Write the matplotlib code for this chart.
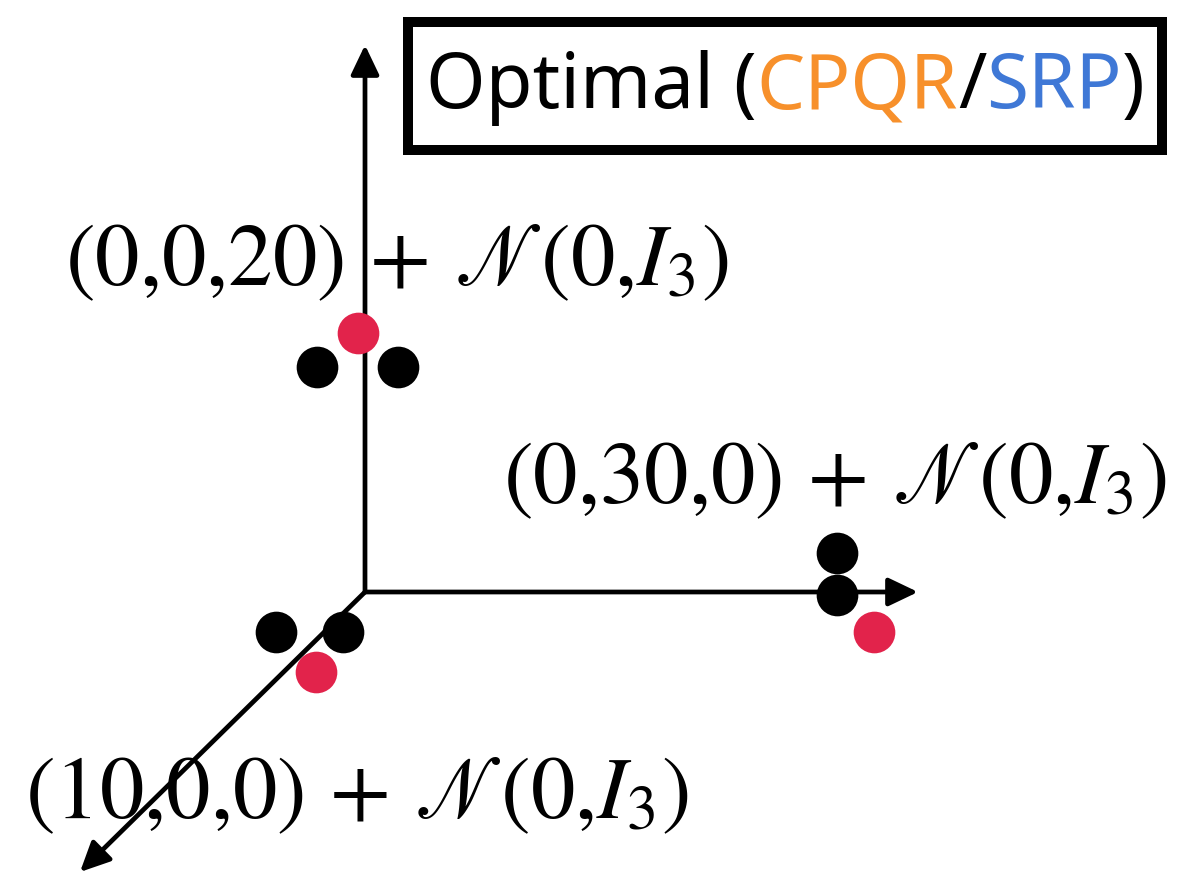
import matplotlib
matplotlib.use('Agg')
import matplotlib.pyplot as plt
from matplotlib.patches import Rectangle
from matplotlib.offsetbox import TextArea, HPacker, AnnotationBbox

plt.rcParams['mathtext.fontset'] = 'stix'

# axis arrows, drawn from the origin (units ~ pixels)
axis_tips = {'z': (0, 547), 'y': (553, 0), 'x': (-285, -280)}

# sample points around each cluster center
black_x = [-48, 33, 472, 472, -89, -22]
black_y = [225, 225, 39, -3, -40, -40]
# optimal representatives
red_x = [-7, 509, -49]
red_y = [259, -40, -80]

labels = [r'$(0{,}0{,}20)\,+\,\mathscr{N}(0{,}I_3)$',
          r'$(0{,}30{,}0)\,+\,\mathscr{N}(0{,}I_3)$',
          r'$(10{,}0{,}0)\,+\,\mathscr{N}(0{,}I_3)$']
label_pos = [(-300, 307), (138, 89), (-340, -226)]

legend_parts = ['Optimal (', 'CPQR', '/', 'SRP', ')']
legend_colors = ['black', '#f7902b', 'black', '#3f78d6', 'black']

fig = plt.figure(figsize=(11.78, 8.75), dpi=100)
ax = fig.add_axes([0, 0, 1, 1])
ax.set_xlim(-365, 813)
ax.set_ylim(-283, 592)
ax.axis('off')

for name, (tx, ty) in axis_tips.items():
    ax.annotate('', xy=(tx, ty), xytext=(0, 0),
                arrowprops=dict(arrowstyle='-|>,head_length=0.9,head_width=0.43',
                                lw=3.4, color='black', shrinkA=0, shrinkB=0,
                                mutation_scale=20))

ax.plot(black_x, black_y, 'o', color='black', ms=30, mew=0, zorder=3)
ax.plot(red_x, red_y, 'o', color='#e2234b', ms=30, mew=0, zorder=3)

for s, (lx, ly) in zip(labels, label_pos):
    ax.text(lx, ly, s, fontsize=64, ha='left', va='baseline', color='black')

# legend frame
ax.add_patch(Rectangle((408 / 1178, 1 - 150 / 875), 754 / 1178, 128 / 875,
                       transform=fig.transFigure, fc='white', ec='black',
                       lw=7.2, zorder=5, clip_on=False))

boxes = [TextArea(p, textprops=dict(color=c, fontsize=55, family='Noto Sans'))
         for p, c in zip(legend_parts, legend_colors)]
pack = HPacker(children=boxes, align='baseline', pad=0, sep=0)
ab = AnnotationBbox(pack, (785 / 1178, 1 - 88 / 875), xycoords='figure fraction',
                    box_alignment=(0.5, 0.5), frameon=False)
ab.set_zorder(6)
ax.add_artist(ab)

fig.savefig('out.png', dpi=100)
